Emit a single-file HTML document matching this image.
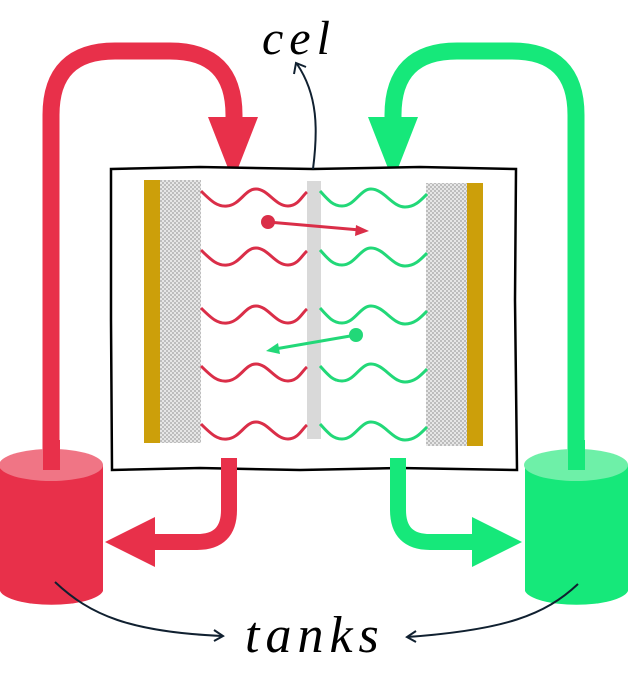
<!DOCTYPE html>
<html><head><meta charset="utf-8"><style>
html,body{margin:0;padding:0;background:#fff;width:628px;height:698px;overflow:hidden}
svg{display:block}
text{font-family:"URW Chancery L","Liberation Serif",cursive;font-style:italic}
</style></head><body>
<svg width="628" height="698" viewBox="0 0 628 698" xmlns="http://www.w3.org/2000/svg">
<defs>
<pattern id="hatch" width="4" height="4" patternUnits="userSpaceOnUse">
<rect width="4" height="4" fill="#e6e6e6"/><rect width="2" height="2" fill="#bdbdbd"/><rect x="2" y="2" width="2" height="2" fill="#bdbdbd"/>
</pattern>
</defs>
<!-- big top arrows -->
<path d="M51,470 V115 Q51,51 115,51 H170 Q234,51 234,115 V120" fill="none" stroke="#e8304a" stroke-width="17"/>
<polygon points="208,117 258,117 233,181" fill="#e8304a"/>
<path d="M576,470 V115 Q576,51 512,51 H457 Q393,51 393,115 V120" fill="none" stroke="#16e87a" stroke-width="17"/>
<polygon points="368,117 418,117 393,181" fill="#16e87a"/>
<!-- cell box -->
<path d="M111,169 L200,167 L313,169 L420,167 L516,169 L515,300 L517,470 L400,468 L300,470 L200,468 L112,470 L111,320 Z" fill="#fff" stroke="#000" stroke-width="2.5"/>
<rect x="144" y="180" width="16" height="263" fill="#cc9f0a"/>
<rect x="160" y="180" width="41" height="263" fill="url(#hatch)"/>
<rect x="426" y="183" width="41" height="263" fill="url(#hatch)"/>
<rect x="467" y="183" width="16" height="263" fill="#cc9f0a"/>
<rect x="307" y="181" width="14" height="258" fill="#d9d9d9"/>
<g fill="none" stroke-width="3">
<g stroke="#da2e48">
<path id="rw" d="M201,191 C212,202 218,207 227,206 C240,205 245,189 256,189 C268,189 275,206 288,206 C298,206 302,196 307,192"/>
<use href="#rw" y="59"/><use href="#rw" y="117"/><use href="#rw" y="175"/><use href="#rw" y="233"/>
</g>
<g stroke="#22d878">
<path id="gw" d="M320,191 C328,200 333,206 342,206 C355,206 360,189 371,189 C384,189 392,207 405,207 C415,207 421,200 427,194"/>
<use href="#gw" y="59"/><use href="#gw" y="117"/><use href="#gw" y="175"/><use href="#gw" y="233"/>
</g>
</g>
<circle cx="268" cy="222" r="7" fill="#da2e48"/>
<line x1="268" y1="222" x2="360" y2="230" stroke="#da2e48" stroke-width="3"/>
<polygon points="369,231 356,225 355,236" fill="#da2e48"/>
<circle cx="356" cy="335" r="7" fill="#22d878"/>
<line x1="356" y1="335" x2="275" y2="349" stroke="#22d878" stroke-width="3"/>
<polygon points="266,351 278,343 280,354" fill="#22d878"/>
<!-- bottom arrows -->
<path d="M229,458 V510 Q229,542 197,542 H150" fill="none" stroke="#e8304a" stroke-width="16"/>
<polygon points="155,517 155,567 105,542" fill="#e8304a"/>
<path d="M398,458 V510 Q398,542 430,542 H477" fill="none" stroke="#16e87a" stroke-width="16"/>
<polygon points="472,517 472,567 522,542" fill="#16e87a"/>
<!-- tanks -->
<path d="M0,465 A52,16 0 0 1 103,465 V591 A52,16 0 0 1 0,591 Z" fill="#e8304a"/>
<ellipse cx="51" cy="465" rx="52" ry="16" fill="#f07585"/>
<rect x="43" y="440" width="17" height="30" fill="#e8304a"/>
<path d="M525,465 A52,16 0 0 1 628,465 V591 A52,16 0 0 1 525,591 Z" fill="#16e87a"/>
<ellipse cx="576" cy="465" rx="52" ry="16" fill="#6ef0a8"/>
<rect x="568" y="440" width="17" height="30" fill="#16e87a"/>
<!-- labels & connectors -->
<path d="M313,169 C318,130 318,95 297,64" fill="none" stroke="#102030" stroke-width="2"/>
<polyline points="294,74 296,63 306,67" fill="none" stroke="#102030" stroke-width="2"/>
<path d="M55,582 C90,615 130,632 222,636" fill="none" stroke="#102030" stroke-width="2"/>
<polyline points="214,630 223,636 214,641" fill="none" stroke="#102030" stroke-width="2"/>
<path d="M578,584 C545,615 505,630 407,637" fill="none" stroke="#102030" stroke-width="2"/>
<polyline points="416,631 407,637 416,642" fill="none" stroke="#102030" stroke-width="2"/>
<text x="262" y="54" font-size="48" letter-spacing="6" fill="#000">cel</text>
<text x="245" y="652" font-size="52" letter-spacing="6" fill="#000">tanks</text>
</svg>
</body></html>
